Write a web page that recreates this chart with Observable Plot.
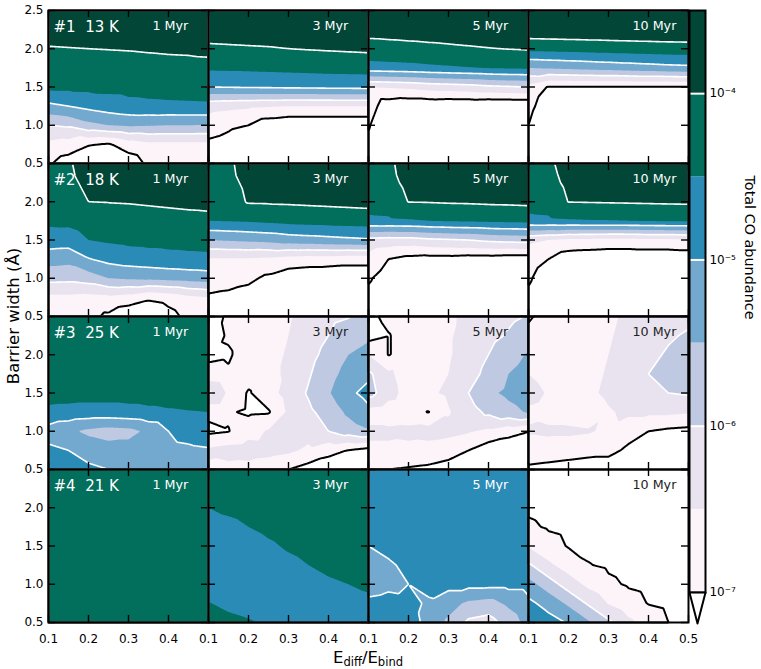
<!DOCTYPE html>
<html>
<head>
<meta charset="utf-8">
<script src="https://cdn.jsdelivr.net/npm/d3@7"></script>
<script src="https://cdn.jsdelivr.net/npm/@observablehq/plot@0.6"></script>
<style>
  body { margin: 0; background: #fff; font-family: "DejaVu Sans", sans-serif; }
  #fig { position: relative; width: 761px; height: 669px; overflow: hidden; background: #fff; }
  #fig svg { position: absolute; }
  .axlabel { position: absolute; white-space: nowrap; color: #000; font-family: "DejaVu Sans", sans-serif; }
  .axlabel sub { font-size: 70%; vertical-align: -0.3em; line-height: 0; }
</style>
</head>
<body>
<div id="fig"></div>
<script>
// Sampling grid of the model runs
const edRatio = [0.1, 0.15, 0.2, 0.25, 0.3, 0.35, 0.4, 0.45, 0.5];        // E_diff / E_bind
const barrierWidth = [2.5, 2.25, 2.0, 1.75, 1.5, 1.25, 1.0, 0.75, 0.5];   // Å, rows from top to bottom

const temperatures = ["13 K", "18 K", "25 K", "21 K"];
const times = ["1 Myr", "3 Myr", "5 Myr", "10 Myr"];

// log10 of the total CO abundance; contour levels and colours
const levels = [-7, -6.5, -6, -5.5, -5, -4.5, -4, -3.5];
const bandColors = ["#fcf4f9", "#e9e3ef", "#bfc9e2", "#74a9cf", "#2b8bb7", "#026e5c", "#014636"];
const whiteLines = [-6, -5, -4];
const xTicks = [0.1, 0.2, 0.3, 0.4, 0.5];
const yTicks = [0.5, 1.0, 1.5, 2.0, 2.5];
const cbarTicks = [-7, -6, -5, -4];

// 13 K
const t13_1Myr = [
  [-3.71,-3.71,-3.70,-3.69,-3.68,-3.66,-3.65,-3.64,-3.63],
  [-3.86,-3.86,-3.85,-3.84,-3.83,-3.81,-3.80,-3.79,-3.78],
  [-4.02,-4.01,-4.00,-3.99,-3.98,-3.96,-3.94,-3.93,-3.92],
  [-4.23,-4.22,-4.20,-4.18,-4.16,-4.15,-4.14,-4.13,-4.10],
  [-4.38,-4.38,-4.37,-4.36,-4.35,-4.34,-4.33,-4.32,-4.31],
  [-5.12,-5.00,-4.86,-4.74,-4.64,-4.60,-4.58,-4.57,-4.56],
  [-6.00,-5.92,-5.64,-5.50,-5.43,-5.46,-5.50,-5.50,-5.52],
  [-6.62,-6.72,-6.96,-7.05,-6.76,-6.62,-6.62,-6.62,-6.62],
  [-6.94,-7.24,-7.50,-7.60,-7.30,-6.90,-6.90,-6.90,-6.90]
];
const t13_3Myr = [
  [-3.72,-3.71,-3.70,-3.69,-3.68,-3.67,-3.66,-3.65,-3.64],
  [-3.87,-3.86,-3.85,-3.84,-3.83,-3.82,-3.81,-3.80,-3.79],
  [-4.05,-4.04,-4.03,-4.02,-4.00,-3.98,-3.96,-3.94,-3.92],
  [-4.42,-4.41,-4.40,-4.38,-4.36,-4.34,-4.32,-4.31,-4.30],
  [-5.00,-4.98,-4.96,-4.95,-4.93,-4.92,-4.90,-4.89,-4.88],
  [-6.33,-6.38,-6.42,-6.46,-6.50,-6.50,-6.50,-6.50,-6.50],
  [-6.75,-6.90,-7.00,-7.30,-7.40,-7.40,-7.40,-7.40,-7.40],
  [-7.10,-7.20,-7.40,-7.50,-7.50,-7.50,-7.50,-7.50,-7.50],
  [-7.30,-7.40,-7.50,-7.60,-7.60,-7.60,-7.60,-7.60,-7.60]
];
const t13_5Myr = [
  [-3.74,-3.73,-3.72,-3.71,-3.70,-3.69,-3.68,-3.68,-3.67],
  [-3.89,-3.88,-3.87,-3.86,-3.85,-3.84,-3.83,-3.83,-3.82],
  [-4.13,-4.11,-4.09,-4.07,-4.05,-4.03,-4.01,-3.99,-3.97],
  [-4.71,-4.68,-4.65,-4.60,-4.56,-4.52,-4.48,-4.45,-4.43],
  [-6.50,-6.45,-6.40,-6.30,-6.25,-6.20,-6.10,-6.05,-6.00],
  [-6.75,-7.30,-7.40,-7.40,-7.45,-7.45,-7.50,-7.50,-7.50],
  [-6.95,-7.50,-7.60,-7.60,-7.60,-7.60,-7.60,-7.60,-7.60],
  [-7.10,-7.60,-7.60,-7.60,-7.60,-7.60,-7.60,-7.60,-7.60],
  [-7.20,-7.60,-7.60,-7.60,-7.60,-7.60,-7.60,-7.60,-7.60]
];
const t13_10Myr = [
  [-3.55,-3.55,-3.55,-3.55,-3.55,-3.55,-3.55,-3.55,-3.55],
  [-3.68,-3.67,-3.66,-3.65,-3.64,-3.63,-3.62,-3.61,-3.60],
  [-4.36,-4.34,-4.32,-4.30,-4.28,-4.26,-4.24,-4.22,-4.21],
  [-5.50,-5.45,-5.40,-5.35,-5.30,-5.25,-5.20,-5.15,-5.12],
  [-6.70,-7.03,-7.03,-7.03,-7.03,-7.03,-7.03,-7.03,-7.03],
  [-6.85,-7.30,-7.40,-7.40,-7.40,-7.40,-7.40,-7.40,-7.40],
  [-7.00,-7.50,-7.50,-7.50,-7.50,-7.50,-7.50,-7.50,-7.50],
  [-7.20,-7.60,-7.60,-7.60,-7.60,-7.60,-7.60,-7.60,-7.60],
  [-7.30,-7.60,-7.60,-7.60,-7.60,-7.60,-7.60,-7.60,-7.60]
];

// 18 K
const t18_1Myr = [
  [-4.10,-4.05,-3.80,-3.75,-3.74,-3.72,-3.70,-3.68,-3.66],
  [-4.15,-4.10,-3.90,-3.87,-3.86,-3.84,-3.82,-3.80,-3.78],
  [-4.25,-4.20,-4.00,-3.99,-3.98,-3.96,-3.94,-3.92,-3.90],
  [-4.40,-4.38,-4.25,-4.20,-4.17,-4.15,-4.13,-4.11,-4.10],
  [-4.72,-4.74,-4.50,-4.43,-4.38,-4.36,-4.35,-4.34,-4.33],
  [-5.30,-5.35,-5.03,-4.85,-4.75,-4.70,-4.65,-4.62,-4.60],
  [-5.84,-5.86,-5.75,-5.50,-5.44,-5.40,-5.35,-5.30,-5.25],
  [-6.60,-6.60,-6.65,-6.60,-6.70,-6.90,-6.80,-6.60,-6.50],
  [-6.80,-6.80,-6.85,-7.10,-7.40,-7.50,-7.20,-6.85,-6.80]
];
const t18_3Myr = [
  [-4.10,-4.08,-3.80,-3.78,-3.76,-3.75,-3.74,-3.73,-3.72],
  [-4.15,-4.12,-3.90,-3.88,-3.86,-3.85,-3.84,-3.83,-3.82],
  [-4.25,-4.22,-3.96,-3.95,-3.94,-3.92,-3.90,-3.88,-3.86],
  [-4.50,-4.48,-4.45,-4.40,-4.35,-4.32,-4.30,-4.28,-4.26],
  [-5.50,-5.45,-5.40,-5.35,-5.25,-5.20,-5.15,-5.10,-5.05],
  [-6.55,-6.55,-6.55,-6.60,-6.70,-6.75,-6.75,-6.80,-6.80],
  [-6.80,-6.83,-6.90,-7.10,-7.30,-7.35,-7.40,-7.40,-7.40],
  [-7.05,-7.10,-7.20,-7.40,-7.50,-7.50,-7.50,-7.50,-7.50],
  [-7.20,-7.30,-7.40,-7.50,-7.50,-7.50,-7.50,-7.50,-7.50]
];
const t18_5Myr = [
  [-4.10,-4.08,-3.82,-3.80,-3.78,-3.77,-3.76,-3.75,-3.74],
  [-4.15,-4.12,-3.90,-3.88,-3.86,-3.85,-3.84,-3.83,-3.82],
  [-4.30,-4.25,-3.99,-3.98,-3.96,-3.95,-3.93,-3.92,-3.90],
  [-4.60,-4.58,-4.55,-4.50,-4.47,-4.45,-4.42,-4.40,-4.38],
  [-6.15,-6.20,-6.20,-6.10,-6.05,-6.00,-5.90,-5.85,-5.80],
  [-6.70,-7.00,-7.15,-7.20,-7.20,-7.25,-7.25,-7.30,-7.30],
  [-6.95,-7.20,-7.40,-7.50,-7.50,-7.50,-7.50,-7.50,-7.50],
  [-7.10,-7.30,-7.50,-7.50,-7.50,-7.50,-7.50,-7.50,-7.50],
  [-7.20,-7.35,-7.50,-7.50,-7.50,-7.50,-7.50,-7.50,-7.50]
];
const t18_10Myr = [
  [-4.10,-4.08,-3.82,-3.80,-3.78,-3.77,-3.76,-3.75,-3.74],
  [-4.20,-4.15,-3.90,-3.88,-3.87,-3.86,-3.85,-3.84,-3.83],
  [-4.35,-4.30,-3.99,-3.98,-3.97,-3.96,-3.95,-3.94,-3.93],
  [-4.60,-4.58,-4.55,-4.53,-4.52,-4.50,-4.48,-4.46,-4.45],
  [-6.40,-6.50,-6.60,-6.62,-6.65,-6.65,-6.60,-6.60,-6.55],
  [-6.75,-7.00,-7.30,-7.35,-7.40,-7.40,-7.40,-7.40,-7.40],
  [-6.93,-7.30,-7.50,-7.50,-7.50,-7.50,-7.50,-7.50,-7.50],
  [-7.10,-7.40,-7.50,-7.50,-7.50,-7.50,-7.50,-7.50,-7.50],
  [-7.20,-7.40,-7.50,-7.50,-7.50,-7.50,-7.50,-7.50,-7.50]
];

// 25 K
const t25_1Myr = [
  [-4.18,-4.18,-4.18,-4.18,-4.18,-4.18,-4.18,-4.18,-4.18],
  [-4.20,-4.20,-4.20,-4.20,-4.20,-4.20,-4.20,-4.20,-4.20],
  [-4.22,-4.22,-4.22,-4.22,-4.22,-4.22,-4.22,-4.22,-4.22],
  [-4.25,-4.25,-4.25,-4.25,-4.25,-4.25,-4.25,-4.25,-4.25],
  [-4.30,-4.30,-4.30,-4.30,-4.30,-4.30,-4.30,-4.30,-4.30],
  [-4.62,-4.66,-4.70,-4.70,-4.66,-4.60,-4.55,-4.52,-4.50],
  [-5.20,-5.40,-5.60,-5.70,-5.65,-5.40,-5.00,-4.80,-4.70],
  [-4.90,-5.00,-5.20,-5.30,-5.30,-5.25,-5.15,-5.10,-5.05],
  [-4.80,-4.85,-4.90,-5.00,-5.10,-5.10,-5.10,-5.05,-5.00]
];
const t25_3Myr = [
  [-7.30,-6.90,-6.80,-6.70,-6.55,-6.30,-6.10,-6.02,-5.90],
  [-7.20,-6.95,-6.80,-6.70,-6.50,-6.25,-6.00,-5.80,-5.60],
  [-7.10,-7.05,-6.80,-6.65,-6.45,-6.15,-5.85,-5.50,-5.30],
  [-6.85,-6.95,-6.80,-6.65,-6.40,-6.05,-5.70,-5.30,-5.10],
  [-5.90,-6.60,-7.05,-6.70,-6.30,-5.95,-5.55,-5.10,-4.85],
  [-6.90,-6.95,-7.08,-7.05,-6.40,-6.10,-5.80,-5.40,-5.10],
  [-7.10,-7.02,-6.70,-6.45,-6.40,-6.30,-6.00,-5.75,-5.55],
  [-6.40,-6.30,-6.25,-6.30,-6.40,-6.60,-6.85,-7.02,-7.20],
  [-6.60,-6.65,-6.70,-6.85,-7.00,-7.20,-7.30,-7.40,-7.50]
];
const t25_5Myr = [
  [-7.10,-6.90,-6.80,-6.70,-6.60,-6.35,-6.20,-6.10,-5.97],
  [-7.20,-7.02,-6.85,-6.75,-6.55,-6.35,-6.15,-5.95,-5.75],
  [-6.50,-7.02,-6.85,-6.70,-6.55,-6.30,-6.00,-5.70,-5.45],
  [-5.90,-6.40,-6.75,-6.65,-6.50,-6.20,-5.85,-5.50,-5.30],
  [-5.80,-6.30,-6.70,-6.60,-6.40,-6.00,-5.60,-5.40,-5.25],
  [-6.70,-6.80,-6.85,-7.02,-6.55,-6.20,-5.90,-5.65,-5.45],
  [-6.40,-6.40,-6.35,-6.30,-6.35,-6.45,-6.60,-6.80,-6.98],
  [-6.60,-6.60,-6.65,-6.70,-6.80,-7.00,-7.30,-7.40,-7.50],
  [-6.95,-7.00,-7.05,-7.10,-7.20,-7.40,-7.50,-7.50,-7.60]
];
const t25_10Myr = [
  [-7.05,-6.85,-6.80,-6.75,-6.60,-6.40,-6.30,-6.20,-6.10],
  [-6.90,-6.90,-6.80,-6.75,-6.55,-6.35,-6.20,-6.05,-5.95],
  [-6.85,-6.85,-6.80,-6.70,-6.50,-6.30,-6.10,-5.95,-5.85],
  [-6.50,-6.70,-6.75,-6.65,-6.45,-6.25,-6.00,-5.85,-5.75],
  [-6.30,-6.55,-6.70,-6.60,-6.40,-6.25,-6.10,-6.00,-5.95],
  [-6.60,-6.70,-6.75,-6.80,-6.55,-6.40,-6.40,-6.40,-6.45],
  [-6.45,-6.40,-6.40,-6.45,-6.60,-6.80,-7.00,-7.10,-7.15],
  [-6.70,-6.75,-6.80,-6.85,-6.85,-7.10,-7.30,-7.40,-7.50],
  [-7.10,-7.15,-7.20,-7.25,-7.30,-7.40,-7.50,-7.50,-7.60]
];

// 21 K
const t21_1Myr = [
  [-4.20,-4.20,-4.20,-4.20,-4.20,-4.20,-4.20,-4.20,-4.20],
  [-4.20,-4.20,-4.20,-4.20,-4.20,-4.20,-4.20,-4.20,-4.20],
  [-4.20,-4.20,-4.20,-4.20,-4.20,-4.20,-4.20,-4.20,-4.20],
  [-4.20,-4.20,-4.20,-4.20,-4.20,-4.20,-4.20,-4.20,-4.20],
  [-4.20,-4.20,-4.20,-4.20,-4.20,-4.20,-4.20,-4.20,-4.20],
  [-4.20,-4.20,-4.20,-4.20,-4.20,-4.20,-4.20,-4.20,-4.20],
  [-4.20,-4.20,-4.20,-4.20,-4.20,-4.20,-4.20,-4.20,-4.20],
  [-4.20,-4.20,-4.20,-4.20,-4.20,-4.20,-4.20,-4.20,-4.20],
  [-4.20,-4.20,-4.20,-4.20,-4.20,-4.20,-4.20,-4.20,-4.20]
];
const t21_3Myr = [
  [-4.20,-4.20,-4.20,-4.20,-4.20,-4.20,-4.20,-4.20,-4.20],
  [-4.35,-4.30,-4.27,-4.25,-4.23,-4.22,-4.21,-4.20,-4.20],
  [-4.50,-4.42,-4.36,-4.30,-4.27,-4.25,-4.23,-4.22,-4.20],
  [-4.65,-4.60,-4.50,-4.42,-4.36,-4.32,-4.28,-4.26,-4.24],
  [-4.72,-4.70,-4.65,-4.55,-4.46,-4.40,-4.35,-4.32,-4.30],
  [-4.75,-4.75,-4.72,-4.66,-4.58,-4.50,-4.44,-4.40,-4.38],
  [-4.70,-4.75,-4.75,-4.72,-4.66,-4.60,-4.54,-4.50,-4.46],
  [-4.48,-4.60,-4.70,-4.72,-4.70,-4.66,-4.62,-4.58,-4.55],
  [-4.30,-4.38,-4.45,-4.55,-4.62,-4.65,-4.65,-4.62,-4.60]
];
const t21_5Myr = [
  [-4.65,-4.65,-4.65,-4.65,-4.65,-4.65,-4.65,-4.65,-4.65],
  [-4.68,-4.68,-4.68,-4.68,-4.68,-4.68,-4.68,-4.68,-4.68],
  [-4.70,-4.70,-4.70,-4.70,-4.70,-4.70,-4.70,-4.70,-4.70],
  [-4.85,-4.78,-4.72,-4.72,-4.72,-4.72,-4.72,-4.72,-4.72],
  [-5.00,-4.90,-4.80,-4.75,-4.75,-4.75,-4.75,-4.75,-4.75],
  [-5.15,-5.05,-4.92,-4.82,-4.78,-4.78,-4.78,-4.78,-4.78],
  [-5.20,-5.10,-5.00,-4.90,-4.85,-4.85,-4.85,-4.85,-4.85],
  [-4.90,-4.85,-4.90,-5.05,-5.30,-5.60,-5.70,-5.40,-5.10],
  [-4.80,-4.80,-4.85,-5.10,-5.60,-6.10,-6.20,-5.80,-5.30]
];
const t21_10Myr = [
  [-7.27,-7.30,-7.30,-7.30,-7.30,-7.30,-7.30,-7.30,-7.30],
  [-7.17,-7.25,-7.30,-7.30,-7.30,-7.30,-7.30,-7.30,-7.30],
  [-7.08,-7.15,-7.22,-7.30,-7.30,-7.30,-7.30,-7.30,-7.30],
  [-6.92,-7.05,-7.12,-7.20,-7.30,-7.30,-7.30,-7.30,-7.30],
  [-6.54,-6.82,-7.03,-7.10,-7.17,-7.24,-7.30,-7.30,-7.30],
  [-5.92,-6.40,-6.73,-6.98,-7.07,-7.15,-7.22,-7.29,-7.30],
  [-5.32,-5.76,-6.24,-6.63,-6.91,-7.05,-7.12,-7.19,-7.26],
  [-4.88,-5.18,-5.59,-6.07,-6.53,-6.81,-7.02,-7.10,-7.17],
  [-4.60,-4.81,-5.04,-5.44,-5.90,-6.38,-6.71,-7.00,-7.07]
];

const panels = [
  [t13_1Myr, t13_3Myr, t13_5Myr, t13_10Myr],
  [t18_1Myr, t18_3Myr, t18_5Myr, t18_10Myr],
  [t25_1Myr, t25_3Myr, t25_5Myr, t25_10Myr],
  [t21_1Myr, t21_3Myr, t21_5Myr, t21_10Myr]
];

// label ink per panel (light text on dark fills)
const labelInk = [
  ["#fff", "#fff", "#fff", "#fff"],
  ["#fff", "#fff", "#fff", "#fff"],
  ["#fff", "#222", "#222", "#222"],
  ["#fff", "#fff", "#fff", "#222"]
];

const layout = {left: 48, top: 10, panelW: 160, panelH: 153, tick: 7};
const font = "DejaVu Sans";
const colorScale = {type: "threshold", domain: levels.slice(1, -1), range: bandColors};
const supMap = {"-": "\u207b", "0": "\u2070", "1": "\u00b9", "2": "\u00b2", "3": "\u00b3", "4": "\u2074", "5": "\u2075", "6": "\u2076", "7": "\u2077", "8": "\u2078", "9": "\u2079"};
const pow10 = d => "10" + String(d).split("").map(ch => supMap[ch]).join("");
const fmt1 = d => d.toFixed(1);

const fig = document.getElementById("fig");

function drawPanel(grid, r, c) {
  const pts = [];
  grid.forEach((row, i) => row.forEach((v, j) => pts.push({x: edRatio[j], y: barrierWidth[i], v})));
  const base = {
    x: "x", y: "y", interpolate: "barycentric", pixelSize: 1,
    x1: edRatio[0], x2: edRatio[edRatio.length - 1],
    y1: barrierWidth[barrierWidth.length - 1], y2: barrierWidth[0]
  };
  const ink = labelInk[r][c];
  const W = layout.panelW, H = layout.panelH, t = layout.tick;
  const tickStyle = {stroke: "black", strokeWidth: 1.4};
  const marks = [
    Plot.contour(pts, {...base, fill: "v", thresholds: levels.slice(0, -1)}),
    Plot.contour(pts, {...base, value: "v", thresholds: whiteLines, fill: "none", stroke: "white", strokeWidth: 1.6}),
    Plot.contour(pts, {...base, value: "v", thresholds: [levels[0]], fill: "none", stroke: "black", strokeWidth: 2}),
    // inward ticks on all four sides
    Plot.tickX(xTicks, {x: d => d, insetTop: H - t, ...tickStyle}),
    Plot.tickX(xTicks, {x: d => d, insetBottom: H - t, ...tickStyle}),
    Plot.tickY(yTicks, {y: d => d, insetRight: W - t, ...tickStyle}),
    Plot.tickY(yTicks, {y: d => d, insetLeft: W - t, ...tickStyle}),
    Plot.frame({stroke: "black", strokeWidth: 2}),
    Plot.text([times[c]], {frameAnchor: "top-left", dx: 104, dy: 10.3, fontSize: 12.7, fill: ink, textAnchor: "start"})
  ];
  if (c === 0) {
    // run number and temperature, first column only
    marks.push(Plot.text([`#${r + 1}\u00a0 ${temperatures[r]}`], {frameAnchor: "top-left", dx: 5, dy: 10.5, fontSize: 15, fill: ink, textAnchor: "start"}));
    marks.push(Plot.axisY(r === 0 ? yTicks : yTicks.slice(0, -1),
      {anchor: "left", tickSize: 0, tickPadding: 5, fontSize: 12, tickFormat: fmt1, label: null}));
  }
  if (r === panels.length - 1) {
    marks.push(Plot.axisX(c === 3 ? xTicks : xTicks.slice(0, -1),
      {anchor: "bottom", tickSize: 0, tickPadding: 12, fontSize: 12, tickFormat: fmt1, label: null}));
  }
  const svg = Plot.plot({
    width: W, height: H, margin: 0,
    x: {domain: [edRatio[0], edRatio[edRatio.length - 1]], label: null, axis: null},
    y: {domain: [barrierWidth[barrierWidth.length - 1], barrierWidth[0]], label: null, axis: null},
    color: colorScale,
    style: {overflow: "visible", background: "none", fontFamily: font},
    marks
  });
  svg.style.left = `${layout.left + c * W}px`;
  svg.style.top = `${layout.top + r * H}px`;
  fig.appendChild(svg);
}

panels.forEach((row, r) => row.forEach((grid, c) => drawPanel(grid, r, c)));

// colour bar with the same levels, lower extension triangle and contour-line markers
const bands = levels.slice(0, -1).map((lo, i) => ({lo, hi: levels[i + 1]}));
const extension = 0.186;
const tri = [
  {x: 0, y: levels[0]},
  {x: 0.5, y: levels[0] - extension},
  {x: 1, y: levels[0]}
];
const cbarH = (levels[levels.length - 1] - levels[0]) * 166.3;
const cbar = Plot.plot({
  width: 16, height: cbarH + 33, marginTop: 0, marginBottom: 33, marginLeft: 0, marginRight: 0,
  x: {domain: [0, 1], axis: null},
  y: {domain: [levels[0], levels[levels.length - 1]], label: null},
  color: colorScale,
  style: {overflow: "visible", background: "none", fontFamily: font},
  marks: [
    Plot.rect(bands, {x1: 0, x2: 1, y1: "lo", y2: "hi", fill: "lo"}),
    Plot.ruleY(whiteLines, {stroke: "white", strokeWidth: 2}),
    Plot.ruleY([levels[0]], {stroke: "black", strokeWidth: 2}),
    Plot.line(tri, {x: "x", y: "y", fill: "white", stroke: "black", strokeWidth: 2}),
    Plot.frame({stroke: "black", strokeWidth: 2}),
    Plot.axisY(cbarTicks, {anchor: "right", tickSize: 0, tickPadding: 4, fontSize: 12, tickFormat: pow10, label: null}),
    Plot.text(["Total CO abundance"], {frameAnchor: "right", dx: 44, dy: 18, rotate: 90, fontSize: 14.4})
  ]
});
cbar.style.left = "689px";
cbar.style.top = `${layout.top}px`;
fig.appendChild(cbar);

// shared axis titles
const ylab = document.createElement("div");
ylab.className = "axlabel";
ylab.textContent = "Barrier width (Å)";
Object.assign(ylab.style, {left: "13px", top: "316px", fontSize: "16.5px", transform: "translate(-50%, -50%) rotate(-90deg)"});
fig.appendChild(ylab);

const xlab = document.createElement("div");
xlab.className = "axlabel";
xlab.innerHTML = "E<sub>diff</sub>/E<sub>bind</sub>";
Object.assign(xlab.style, {left: "368px", top: "657px", fontSize: "16.5px", transform: "translate(-50%, -50%)"});
fig.appendChild(xlab);
</script>
</body>
</html>
